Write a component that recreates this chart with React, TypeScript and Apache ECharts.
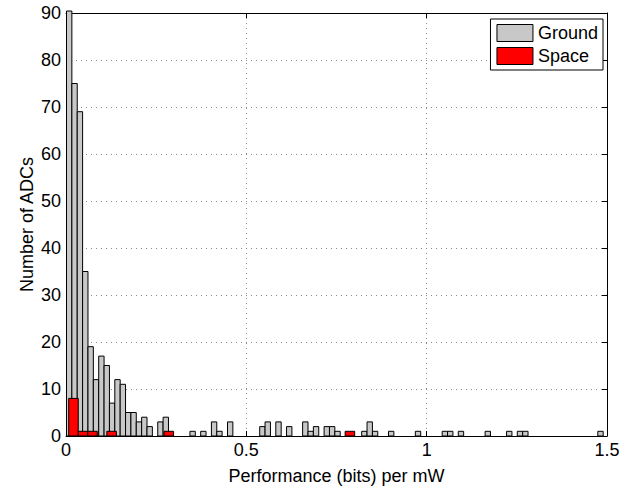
import React, { useEffect, useRef } from "react";
import * as echarts from "echarts";

// Histogram bin edges (data units)
const GROUND_BIN_MIN = 0.0014;
const GROUND_BIN_WIDTH = 0.01488;
const SPACE_BIN_MIN = 0.0075;
const SPACE_BIN_WIDTH = 0.02643;

// Counts per bin
const groundCounts = [
  115, 75, 69, 35, 19, 12, 17, 15, 7, 12,
  11, 5, 5, 3, 4, 2, 0, 3, 4, 0,
  0, 0, 0, 1, 0, 1, 0, 3, 1, 0,
  3, 0, 0, 0, 0, 0, 2, 3, 0, 3,
  0, 2, 0, 0, 3, 1, 2, 0, 2, 2,
  1, 0, 0, 0, 0, 1, 3, 1, 0, 0,
  1, 0, 0, 0, 0, 1, 0, 0, 0, 0,
  1, 1, 0, 1, 0, 0, 0, 0, 1, 0,
  0, 0, 1, 0, 1, 1, 0, 0, 0, 0,
  0, 0, 0, 0, 0, 0, 0, 0, 0, 1,
];
const spaceCounts = [
  8, 1, 1, 0, 1, 0, 0, 0, 0, 0,
  1, 0, 0, 0, 0, 0, 0, 0, 0, 0,
  0, 0, 0, 0, 0, 0, 0, 0, 0, 1,
];

const seriesNames = ["Ground", "Space"];
const xTicks = { min: 0, max: 1.5, interval: 0.5 };
const yTicks = { min: 0, max: 90, interval: 10 };
const xLabel = "Performance (bits) per mW";
const yLabel = "Number of ADCs";

const FONT = "'Liberation Sans', Arial, Helvetica, sans-serif";
const FS = 18;
const GRAY = "#c8c8c8";
const RED = "#ff0000";

function toBins(counts: number[], min: number, width: number) {
  return counts
    .map((c, i) => [min + i * width, min + (i + 1) * width, c])
    .filter((d) => d[2] > 0);
}

function makeRender(fill: string) {
  return (params: any, api: any) => {
    const x0 = api.value(0);
    const x1 = api.value(1);
    const c = api.value(2);
    const p0 = api.coord([x0, c]);
    const p1 = api.coord([x1, 0]);
    const cs = params.coordSys;
    const shape = echarts.graphic.clipRectByRect(
      { x: p0[0], y: p0[1], width: p1[0] - p0[0], height: p1[1] - p0[1] },
      { x: cs.x, y: cs.y - 2, width: cs.width, height: cs.height + 2 }
    );
    if (!shape) return null;
    return {
      type: "rect",
      shape,
      style: { fill, stroke: "#000", lineWidth: 1 },
    };
  };
}

export default function App() {
  const ref = useRef<HTMLDivElement>(null);
  useEffect(() => {
    if (!ref.current) return;
    const chart = echarts.init(ref.current, undefined, { renderer: "svg" });
    const axisLine = { show: true, onZero: false, lineStyle: { color: "#000", width: 1 } };
    const tick = { show: true, inside: true, length: 5, lineStyle: { color: "#000" } };
    const grid = { show: true, lineStyle: { color: "#8a8a8a", width: 1, type: [1, 4] } };
    const txt = { fontSize: FS, color: "#000", fontFamily: FONT };
    chart.setOption({
      animation: false,
      backgroundColor: "#fff",
      textStyle: { fontFamily: FONT },
      grid: { left: 66, right: 34, top: 13, bottom: 49, containLabel: false },
      legend: {
        orient: "vertical",
        right: 38,
        top: 19,
        padding: [5, 5, 5, 6],
        itemGap: 5,
        itemWidth: 36,
        itemHeight: 17,
        borderColor: "#000",
        borderWidth: 1,
        backgroundColor: "#fff",
        borderRadius: 0,
        textStyle: txt,
        data: [
          { name: seriesNames[0], icon: "rect", itemStyle: { color: GRAY, borderColor: "#000", borderWidth: 1 } },
          { name: seriesNames[1], icon: "rect", itemStyle: { color: RED, borderColor: "#000", borderWidth: 1 } },
        ],
      },
      xAxis: [
        {
          type: "value",
          ...xTicks,
          name: xLabel,
          nameLocation: "middle",
          nameGap: 31,
          nameMoveOverlap: false,
          nameTextStyle: txt,
          axisLine,
          axisTick: tick,
          axisLabel: { ...txt, margin: 5, formatter: (v: number) => String(v) },
          splitLine: grid,
        },
        {
          type: "value",
          ...xTicks,
          position: "top",
          axisLine,
          axisTick: tick,
          axisLabel: { show: false },
          splitLine: { show: false },
        },
      ],
      yAxis: [
        {
          type: "value",
          ...yTicks,
          name: yLabel,
          nameLocation: "middle",
          nameGap: 30,
          nameMoveOverlap: false,
          nameTextStyle: txt,
          axisLine,
          axisTick: tick,
          axisLabel: { ...txt, margin: 5 },
          splitLine: grid,
        },
        {
          type: "value",
          ...yTicks,
          position: "right",
          axisLine,
          axisTick: tick,
          axisLabel: { show: false },
          splitLine: { show: false },
        },
      ],
      series: [
        {
          name: seriesNames[0],
          type: "custom",
          renderItem: makeRender(GRAY),
          itemStyle: { color: GRAY },
          encode: { x: [0, 1], y: 2 },
          data: toBins(groundCounts, GROUND_BIN_MIN, GROUND_BIN_WIDTH),
          z: 2,
        },
        {
          name: seriesNames[1],
          type: "custom",
          renderItem: makeRender(RED),
          itemStyle: { color: RED },
          encode: { x: [0, 1], y: 2 },
          data: toBins(spaceCounts, SPACE_BIN_MIN, SPACE_BIN_WIDTH),
          z: 3,
        },
      ],
    });
    return () => chart.dispose();
  }, []);
  return (
    <div
      ref={ref}
      style={{ position: "fixed", left: 0, top: 0, width: 641, height: 490, background: "#fff" }}
    />
  );
}
